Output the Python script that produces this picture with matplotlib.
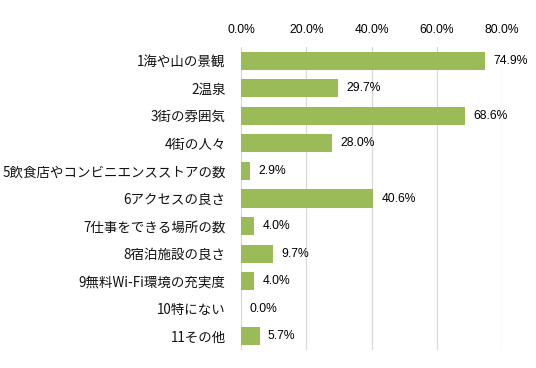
import matplotlib
matplotlib.use("Agg")
import matplotlib.pyplot as plt
from matplotlib.ticker import FuncFormatter

categories = ["1海や山の景観", "2温泉", "3街の雰囲気", "4街の人々", "5飲食店やコンビニエンスストアの数",
              "6アクセスの良さ", "7仕事をできる場所の数", "8宿泊施設の良さ", "9無料Wi-Fi環境の充実度",
              "10特にない", "11その他"]
values = [74.9, 29.7, 68.6, 28.0, 2.9, 40.6, 4.0, 9.7, 4.0, 0.0, 5.7]
xticks = [0, 20, 40, 60, 80]

plt.rcParams['font.family'] = ['Noto Sans CJK JP', 'DejaVu Sans']

fig = plt.figure(figsize=(5.36, 3.68), dpi=100)
ax = fig.add_axes([241/536, 1-350/368, 261/536, 303/368])

y = list(range(len(categories)))
ax.barh(y, values, height=0.66, color="#9BBB59", zorder=3)
ax.set_ylim(len(categories)-0.5, -0.5)
ax.set_xlim(0, 80)
ax.set_xticks(xticks)
ax.xaxis.set_major_formatter(FuncFormatter(lambda v, p: f"{v:.1f}%"))
ax.xaxis.tick_top()
ax.tick_params(axis='x', length=0, pad=8, labelsize=8.7)
for lbl in ax.get_xticklabels():
    lbl.set_fontfamily(['Liberation Sans', 'DejaVu Sans'])
ax.set_yticks(y)
ax.set_yticklabels(categories, fontsize=9.7, color="#111111")
ax.tick_params(axis='y', length=0, pad=11)
ax.grid(axis='x', color="#D9D9D9", linewidth=0.9, zorder=0)
for s in ax.spines.values():
    s.set_visible(False)

for yi, v in zip(y, values):
    ax.annotate(f"{v:.1f}%", (v, yi), xytext=(6, 0), textcoords="offset points",
                va="center", ha="left", fontsize=8.7, family=['Liberation Sans', 'DejaVu Sans'])

fig.savefig("out.png", dpi=100, facecolor="white")
